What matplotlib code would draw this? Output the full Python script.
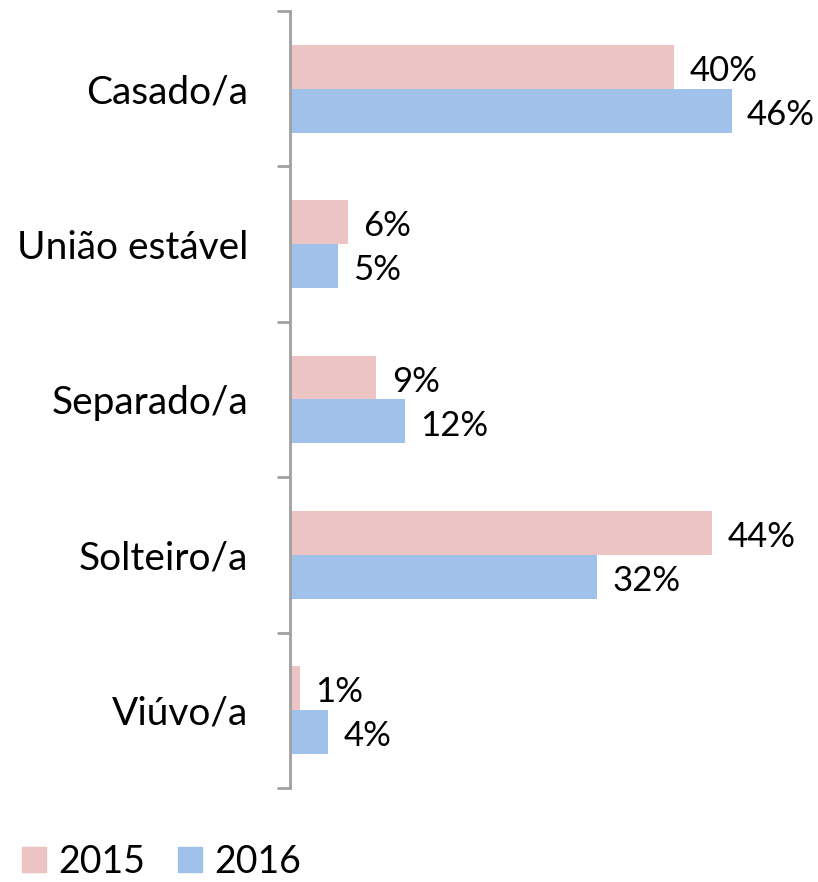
import numpy as np
import matplotlib
matplotlib.use('Agg')
from matplotlib import pyplot as plt
from matplotlib.patches import Patch

categories = ['Casado/a', 'União estável', 'Separado/a', 'Solteiro/a', 'Viúvo/a']
values_2015 = [40, 6, 9, 44, 1]
values_2016 = [46, 5, 12, 32, 4]
years = ['2015', '2016']

pink = '#EBC4C3'
blue = '#A0C2EA'
axis_gray = '#A0A0A0'

plt.rcParams['font.family'] = ['Lato', 'DejaVu Sans']

fig = plt.figure(figsize=(8.18, 8.82), dpi=100)
ax = fig.add_axes([290/818, 1 - 788/882, 528/818, 777/882])

y = np.arange(len(categories))
h = 44/155.4
v15 = np.array(values_2015) / 100
v16 = np.array(values_2016) / 100
ax.barh(y - h/2, v15, height=h, color=pink)
ax.barh(y + h/2, v16, height=h, color=blue)

# value labels next to each bar
for yi, a, b in zip(y, v15, v16):
    ax.annotate(f'{a*100:.0f}%', (a, yi - h/2), xytext=(11, -3), textcoords='offset points',
                va='center', ha='left', fontsize=25)
    ax.annotate(f'{b*100:.0f}%', (b, yi + h/2), xytext=(11, -3), textcoords='offset points',
                va='center', ha='left', fontsize=25)

ax.set_xlim(0, 0.55)
ax.set_ylim(len(categories) - 0.5, -0.5)
ax.set_yticks(y)
ax.set_yticklabels(categories, fontsize=28)
ax.set_yticks(np.arange(-0.5, len(categories)), minor=True)
ax.tick_params(axis='y', which='major', length=0, pad=30)
ax.tick_params(axis='y', which='minor', length=9.5, width=2, color=axis_gray, direction='out')
ax.set_xticks([])
for s in ['top', 'right', 'bottom']:
    ax.spines[s].set_visible(False)
ax.spines['left'].set_color(axis_gray)
ax.spines['left'].set_linewidth(2)

handles = [Patch(color=pink, label=years[0]), Patch(color=blue, label=years[1])]
fig.legend(handles=handles, loc='center left', bbox_to_anchor=(7/818, 1 - 862/882), ncol=2,
           frameon=False, fontsize=27, handlelength=0.64, handleheight=0.64,
           handletextpad=0.32, columnspacing=0.88, borderaxespad=0)

fig.savefig('out.png', dpi=100)
